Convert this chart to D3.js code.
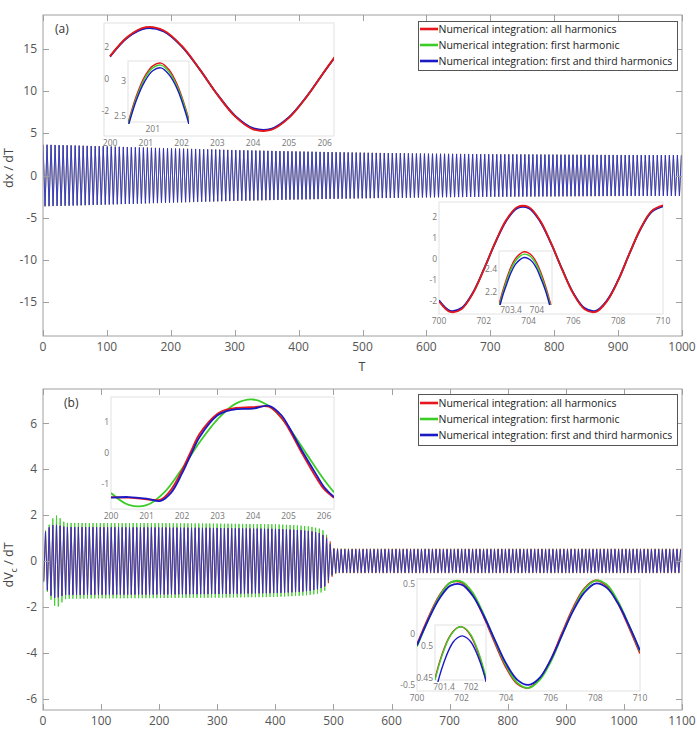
<!DOCTYPE html>
<html><head><meta charset="utf-8">
<script src="https://cdn.jsdelivr.net/npm/d3@7"></script>
<style>body{margin:0;background:#fff} svg{display:block} text{font-family:"Open Sans",sans-serif}</style>
</head><body><svg id="c" width="697" height="734"></svg>
<script>
// ---------------- DATA ----------------
const seriesNames = ["Numerical integration: all harmonics","Numerical integration: first harmonic","Numerical integration: first and third harmonics"];
const seriesColors = ["#e8161c","#3ccc28","#1a1ac4"];
const PERIOD = 6.2832;

// panel (a): envelope of dx/dT oscillation
const aEnvT   = [0, 50, 100, 150, 200, 300, 400, 500, 600, 700, 800, 900, 1000];
const aEnvRed = [3.66, 3.56, 3.45, 3.34, 3.24, 3.02, 2.85, 2.71, 2.60, 2.53, 2.48, 2.44, 2.42];
const aEnvGrn = [3.65, 3.55, 3.44, 3.33, 3.22, 3.01, 2.84, 2.70, 2.59, 2.52, 2.47, 2.43, 2.41];
const aEnvBlu = [3.64, 3.54, 3.43, 3.31, 3.19, 2.99, 2.83, 2.69, 2.58, 2.50, 2.46, 2.42, 2.40];
const aPeakT = 201.12;
const aXTicks = [0,100,200,300,400,500,600,700,800,900,1000];
const aYTicks = [-15,-10,-5,0,5,10,15];

// panel (a) inset 200-206
const aIn1T   = [200,200.5,201,201.5,202,202.5,203,203.5,204,204.5,205,205.5,206,206.3];
const aIn1Red = [1.43,2.66,3.24,3.03,2.08,0.63,-0.98,-2.35,-3.14,-3.18,-2.43,-1.10,0.50,1.43];
const aIn1Grn = [1.42,2.64,3.21,3.00,2.06,0.62,-0.97,-2.33,-3.11,-3.15,-2.41,-1.09,0.50,1.42];
const aIn1Blu = [1.40,2.61,3.17,2.97,2.04,0.62,-0.96,-2.30,-3.07,-3.11,-2.38,-1.08,0.49,1.40];
const aIn1XTicks = [200,201,202,203,204,205,206];
const aIn1YTicks = [-2,0,2];
// nested zoom of the peak
const aIn1nT   = [200.4,200.6,200.8,201.0,201.2,201.4,201.6,201.8,202.0];
const aIn1nRed = [2.39,2.78,3.06,3.22,3.26,3.16,2.94,2.60,2.15];
const aIn1nGrn = [2.37,2.75,3.03,3.19,3.23,3.13,2.91,2.58,2.13];
const aIn1nBlu = [2.34,2.72,2.99,3.15,3.19,3.09,2.88,2.54,2.10];
const aIn1nXTicks = [201];
const aIn1nYTicks = [2.5,3];

// panel (a) inset 700-710
const aIn2T   = [700,700.5,701,701.5,702,702.5,703,703.5,704,704.5,705,705.5,706,706.5,707,707.5,708,708.5,709,709.5,710];
const aIn2Red = [-2.01,-2.52,-2.39,-1.66,-0.51,0.76,1.85,2.47,2.47,1.85,0.76,-0.51,-1.66,-2.39,-2.52,-2.01,-1.02,0.25,1.45,2.29,2.55];
const aIn2Grn = [-1.99,-2.49,-2.37,-1.64,-0.50,0.75,1.83,2.45,2.45,1.83,0.75,-0.50,-1.64,-2.37,-2.49,-1.99,-1.01,0.25,1.44,2.27,2.52];
const aIn2Blu = [-1.97,-2.47,-2.34,-1.63,-0.50,0.74,1.81,2.42,2.42,1.81,0.74,-0.50,-1.63,-2.34,-2.47,-1.97,-1.00,0.25,1.42,2.24,2.50];
const aIn2XTicks = [700,702,704,706,708,710];
const aIn2YTicks = [-2,-1,0,1,2];
const aIn2nT   = [703.1,703.2,703.3,703.4,703.5,703.6,703.7,703.8,703.9,704.0,704.1,704.2,704.3,704.4];
const aIn2nRed = [2.06,2.20,2.32,2.42,2.49,2.53,2.55,2.54,2.51,2.45,2.36,2.25,2.12,1.97];
const aIn2nGrn = [2.04,2.18,2.30,2.40,2.47,2.51,2.53,2.52,2.49,2.43,2.34,2.23,2.10,1.95];
const aIn2nBlu = [2.02,2.16,2.27,2.37,2.44,2.48,2.50,2.49,2.46,2.40,2.31,2.21,2.08,1.93];
const aIn2nXTicks = [703.4,704];
const aIn2nYTicks = [2.2,2.4];

// panel (b): envelope of dVc/dT oscillation (upper / lower magnitude)
const bEnvT     = [0, 5, 10, 15, 20, 25, 30, 35, 40, 100, 200, 300, 400, 440, 460, 475, 485, 490, 495, 500, 510, 1100];
const bEnvGrnUp = [1.15,1.35,1.55,1.80,1.95,2.00,1.85,1.72,1.66,1.65,1.65,1.63,1.60,1.55,1.50,1.42,1.30,1.05,0.75,0.56,0.53,0.53];
const bEnvGrnLo = [0.85,1.20,1.50,1.75,1.95,2.02,1.90,1.72,1.65,1.63,1.62,1.60,1.57,1.52,1.48,1.42,1.30,1.05,0.75,0.56,0.53,0.53];
const bEnvRedUp = [1.10,1.30,1.45,1.55,1.58,1.57,1.53,1.50,1.48,1.47,1.46,1.44,1.40,1.35,1.30,1.22,1.10,1.00,0.84,0.56,0.53,0.53];
const bEnvRedLo = [0.80,1.15,1.40,1.55,1.60,1.60,1.55,1.50,1.48,1.47,1.46,1.44,1.40,1.35,1.30,1.22,1.12,1.00,0.84,0.56,0.53,0.53];
const bEnvBluUp = [1.10,1.30,1.45,1.55,1.58,1.57,1.53,1.50,1.48,1.47,1.46,1.44,1.40,1.35,1.30,1.22,1.08,0.90,0.70,0.52,0.50,0.50];
const bEnvBluLo = [0.80,1.15,1.40,1.55,1.60,1.60,1.55,1.50,1.48,1.47,1.46,1.44,1.40,1.35,1.30,1.22,1.10,0.90,0.70,0.52,0.50,0.50];
const bPeakT = 701.8;
const bXTicks = [0,100,200,300,400,500,600,700,800,900,1000,1100];
const bYTicks = [-6,-4,-2,0,2,4,6];

// panel (b) inset 200-206
const bIn1T   = [200,200.5,201,201.4,201.7,202,202.25,202.5,203,203.25,203.5,204,204.45,204.8,205,205.4,205.8,206,206.28];
const bIn1Red = [-1.40,-1.42,-1.47,-1.48,-1.15,-0.55,0.05,0.62,1.25,1.38,1.43,1.46,1.47,1.12,0.78,-0.05,-0.82,-1.15,-1.42];
const bIn1Blu = [-1.42,-1.40,-1.45,-1.52,-1.25,-0.65,-0.05,0.52,1.20,1.33,1.39,1.41,1.50,1.20,0.85,0.03,-0.72,-1.08,-1.40];
const bIn1GT  = [200,200.5,201,201.5,202,202.5,203,203.5,204,204.5,205,205.5,206,206.28];
const bIn1Grn = [-1.27,-1.65,-1.66,-1.25,-0.50,0.35,1.07,1.56,1.70,1.45,0.82,-0.02,-0.85,-1.25];
const bIn1XTicks = [200,201,202,203,204,205,206];
const bIn1YTicks = [-1,0,1];

// panel (b) inset 700-710
const bIn2T   = [700,700.5,701,701.5,702,702.5,703,703.5,704,704.5,705,705.5,706,706.5,707,707.5,708,708.5,709,709.5,710];
const bIn2Red = [-0.10,0.16,0.38,0.51,0.51,0.39,0.17,-0.09,-0.33,-0.49,-0.53,-0.44,-0.25,0.01,0.26,0.45,0.53,0.48,0.31,0.07,-0.19];
const bIn2Grn = [-0.12,0.14,0.37,0.51,0.52,0.41,0.19,-0.07,-0.31,-0.48,-0.53,-0.45,-0.27,-0.01,0.24,0.44,0.53,0.49,0.33,0.09,-0.17];
const bIn2Blu = [-0.11,0.14,0.35,0.48,0.49,0.38,0.18,-0.06,-0.29,-0.45,-0.50,-0.43,-0.25,-0.01,0.23,0.41,0.50,0.46,0.31,0.09,-0.16];
const bIn2XTicks = [700,702,704,706,708,710];
const bIn2YTicks = [-0.5,0,0.5];
const bIn2nT   = [701.2,701.3,701.4,701.5,701.6,701.7,701.8,701.9,702.0,702.1,702.2,702.3,702.4];
const bIn2nRed = [0.449,0.475,0.496,0.512,0.523,0.529,0.530,0.525,0.515,0.500,0.480,0.455,0.426];
const bIn2nGrn = [0.447,0.473,0.494,0.511,0.522,0.529,0.530,0.526,0.517,0.502,0.483,0.459,0.431];
const bIn2nBlu = [0.426,0.453,0.475,0.493,0.506,0.513,0.516,0.513,0.506,0.493,0.475,0.453,0.426];
const bIn2nXTicks = [701.4,702];
const bIn2nYTicks = [0.45,0.5];

// ---------------- DRAW ----------------
const svg = d3.select("#c");
const AX = "#a0a0a0", TXT = "#555";
const BAND_BLUE = "#2c2cd6";
let clipId = 0;

function band(envT, up, lo, tPeak, tMax){
  const fu = d3.scaleLinear().domain(envT).range(up).clamp(true);
  const fl = d3.scaleLinear().domain(envT).range(lo).clamp(true);
  const half = PERIOD/2;
  let k = Math.ceil((0 - tPeak)/half);
  const pts = [];
  for(;;k++){
    const t = tPeak + k*half;
    if (t > tMax) break;
    const even = ((k % 2) + 2) % 2 === 0;
    pts.push([t, even ? fu(t) : -fl(t)]);
  }
  return pts;
}

function mainPanel(o){
  const x = d3.scaleLinear().domain(o.xDom).range([o.x0,o.x1]);
  const y = d3.scaleLinear().domain(o.yDom).range([o.y1,o.y0]);
  const g = svg.append("g");
  const id = "clip"+(clipId++);
  svg.append("clipPath").attr("id",id).append("rect").attr("x",o.x0).attr("y",o.y0).attr("width",o.x1-o.x0).attr("height",o.y1-o.y0);
  const line = d3.line().x(d=>x(d[0])).y(d=>y(d[1]));
  const cg = g.append("g").attr("clip-path",`url(#${id})`);
  o.series.forEach(s=>{
    cg.append("path").attr("d",line(s.pts)).attr("fill","none").attr("stroke",s.color).attr("stroke-width",s.w||0.9);
  });
  const fr = g.append("g").attr("stroke",AX).attr("stroke-width",1).attr("fill","none");
  fr.append("rect").attr("x",o.x0).attr("y",o.y0).attr("width",o.x1-o.x0).attr("height",o.y1-o.y0);
  o.xTicks.forEach(v=>{
    const px = Math.round(x(v))+0.5;
    fr.append("line").attr("x1",px).attr("x2",px).attr("y1",o.y1).attr("y2",o.y1-6);
    fr.append("line").attr("x1",px).attr("x2",px).attr("y1",o.y0).attr("y2",o.y0+6);
    g.append("text").attr("x",x(v)).attr("y",o.y1+15).attr("text-anchor","middle").attr("font-size",12).attr("fill",TXT).text(v);
  });
  o.yTicks.forEach(v=>{
    const py = Math.round(y(v))+0.5;
    fr.append("line").attr("x1",o.x0).attr("x2",o.x0+6).attr("y1",py).attr("y2",py);
    fr.append("line").attr("x1",o.x1).attr("x2",o.x1-6).attr("y1",py).attr("y2",py);
    g.append("text").attr("x",o.x0-6).attr("y",y(v)).attr("dy","0.35em").attr("text-anchor","end").attr("font-size",12).attr("fill",TXT).text(v);
  });
  return {x,y,g};
}

function inset(o){
  const x = d3.scaleLinear().domain(o.xDom).range([o.x0,o.x1]);
  const y = d3.scaleLinear().domain(o.yDom).range([o.y1,o.y0]);
  const g = svg.append("g");
  const id = "clip"+(clipId++);
  svg.append("clipPath").attr("id",id).append("rect").attr("x",o.x0).attr("y",o.y0-2).attr("width",o.x1-o.x0).attr("height",o.y1-o.y0+4);
  g.append("rect").attr("x",o.x0).attr("y",o.y0).attr("width",o.x1-o.x0).attr("height",o.y1-o.y0).attr("fill","#fff").attr("stroke","#e2e2e2").attr("stroke-width",1);
  const line = d3.line().curve(d3.curveCatmullRom.alpha(0.5)).x(d=>x(d[0])).y(d=>y(d[1]));
  const cg = g.append("g").attr("clip-path",`url(#${id})`);
  o.series.forEach(s=>{
    const pts = s.t.map((t,i)=>[t,s.v[i]]);
    cg.append("path").attr("d",line(pts)).attr("fill","none").attr("stroke",s.color).attr("stroke-width",o.sw||1.8);
  });
  o.xTicks.forEach(v=>{
    g.append("text").attr("x",x(v)).attr("y",o.y1+7.5).attr("dy","0.35em").attr("text-anchor","middle").attr("font-size",o.fs||8.5).attr("fill","#777").text(v);
  });
  o.yTicks.forEach(v=>{
    g.append("text").attr("x",o.yLabX!==undefined?o.yLabX:o.x0-2).attr("y",y(v)).attr("dy","0.35em").attr("text-anchor","end").attr("font-size",o.fs||8.5).attr("fill","#777").text(v);
  });
}

function legend(x0,y0,w,h,rowY){
  const g = svg.append("g");
  g.append("rect").attr("x",x0+0.5).attr("y",y0+0.5).attr("width",w).attr("height",h).attr("fill","#fff").attr("stroke","#555").attr("stroke-width",1);
  seriesNames.forEach((n,i)=>{
    g.append("line").attr("x1",x0+2).attr("x2",x0+20).attr("y1",rowY[i]).attr("y2",rowY[i]).attr("stroke",seriesColors[i]).attr("stroke-width",2.6);
    g.append("text").attr("class","leg").attr("x",x0+20.5).attr("y",rowY[i]).attr("dy","0.35em").attr("font-size",12).attr("fill","#222").text(n);
  });
  return g;
}

// ---- Panel (a)
const A = mainPanel({x0:43,x1:682,y0:15,y1:336,xDom:[0,1000],yDom:[-19,19],xTicks:aXTicks,yTicks:aYTicks,
  series:[
    {pts:band(aEnvT,aEnvRed,aEnvRed,aPeakT,1000),color:seriesColors[0],w:0.5},
    {pts:band(aEnvT,aEnvGrn,aEnvGrn,aPeakT,1000),color:seriesColors[1],w:0.5},
    {pts:band(aEnvT,aEnvBlu,aEnvBlu,aPeakT,1000),color:BAND_BLUE,w:0.85}]});
svg.append("text").attr("x",362).attr("y",371).attr("text-anchor","middle").attr("font-size",12.5).attr("fill","#444").text("T");
svg.append("text").attr("transform","translate(13,168) rotate(-90)").attr("text-anchor","middle").attr("font-size",12.5).attr("fill","#444").text("dx / dT");
svg.append("text").attr("x",55).attr("y",29).attr("dy","0.35em").attr("font-size",12).attr("fill","#333").text("(a)");

inset({x0:104,x1:334,y0:23,y1:136,xDom:[199.83,206.26],yDom:[-3.56,3.5],xTicks:aIn1XTicks,yTicks:aIn1YTicks,yLabX:109,
  series:[{t:aIn1T,v:aIn1Grn,color:seriesColors[1]},{t:aIn1T,v:aIn1Blu,color:seriesColors[2]},{t:aIn1T,v:aIn1Red,color:seriesColors[0]}]});
inset({x0:128,x1:189,y0:61,y1:122,xDom:[200.4,201.88],yDom:[2.41,3.29],xTicks:aIn1nXTicks,yTicks:aIn1nYTicks,sw:1.4,yLabX:126,
  series:[{t:aIn1nT,v:aIn1nRed,color:seriesColors[0]},{t:aIn1nT,v:aIn1nGrn,color:seriesColors[1]},{t:aIn1nT,v:aIn1nBlu,color:seriesColors[2]}]});
inset({x0:439,x1:663,y0:202,y1:314,xDom:[700,710],yDom:[-2.62,2.71],xTicks:aIn2XTicks,yTicks:aIn2YTicks,yLabX:437,
  series:[{t:aIn2T,v:aIn2Grn,color:seriesColors[1]},{t:aIn2T,v:aIn2Blu,color:seriesColors[2]},{t:aIn2T,v:aIn2Red,color:seriesColors[0]}]});
inset({x0:499,x1:552,y0:251,y1:303,xDom:[703.12,704.35],yDom:[2.104,2.557],xTicks:aIn2nXTicks,yTicks:aIn2nYTicks,sw:1.4,yLabX:497,
  series:[{t:aIn2nT,v:aIn2nRed,color:seriesColors[0]},{t:aIn2nT,v:aIn2nGrn,color:seriesColors[1]},{t:aIn2nT,v:aIn2nBlu,color:seriesColors[2]}]});
legend(418,21,259,49,[29,45,61]);

// ---- Panel (b)
const B = mainPanel({x0:43,x1:682,y0:389,y1:710,xDom:[0,1100],yDom:[-6.5,7.5],xTicks:bXTicks,yTicks:bYTicks,
  series:[
    {pts:band(bEnvT,bEnvGrnUp,bEnvGrnLo,bPeakT,1100),color:seriesColors[1],w:0.9},
    {pts:band(bEnvT,bEnvRedUp,bEnvRedLo,bPeakT,1100),color:seriesColors[0],w:0.6},
    {pts:band(bEnvT,bEnvBluUp,bEnvBluLo,bPeakT,1100),color:BAND_BLUE,w:0.85}]});
const yl = svg.append("text").attr("transform","translate(13,565) rotate(-90)").attr("text-anchor","middle").attr("font-size",12.5).attr("fill","#444");
yl.append("tspan").text("dV");
yl.append("tspan").attr("font-size",9).attr("dy",4).text("c");
yl.append("tspan").attr("dy",-4).text(" / dT");
svg.append("text").attr("x",64).attr("y",403).attr("dy","0.35em").attr("font-size",12).attr("fill","#333").text("(b)");

inset({x0:111,x1:334,y0:397,y1:509,xDom:[200,206.28],yDom:[-1.78,1.78],xTicks:bIn1XTicks,yTicks:bIn1YTicks,yLabX:109,
  series:[{t:bIn1GT,v:bIn1Grn,color:seriesColors[1]},{t:bIn1T,v:bIn1Red,color:seriesColors[0]},{t:bIn1T,v:bIn1Blu,color:seriesColors[2]}]});
inset({x0:417,x1:640,y0:579,y1:691,xDom:[700,710],yDom:[-0.56,0.545],xTicks:bIn2XTicks,yTicks:bIn2YTicks,yLabX:415,
  series:[{t:bIn2T,v:bIn2Red,color:seriesColors[0]},{t:bIn2T,v:bIn2Grn,color:seriesColors[1]},{t:bIn2T,v:bIn2Blu,color:seriesColors[2]}]});
inset({x0:435,x1:486,y0:625,y1:680,xDom:[701.2,702.33],yDom:[0.447,0.533],xTicks:bIn2nXTicks,yTicks:bIn2nYTicks,sw:1.4,yLabX:433,
  series:[{t:bIn2nT,v:bIn2nRed,color:seriesColors[0]},{t:bIn2nT,v:bIn2nGrn,color:seriesColors[1]},{t:bIn2nT,v:bIn2nBlu,color:seriesColors[2]}]});
legend(418,394,259,51,[403,419,435]);

// fit legend font so the longest entry spans ~234px
let maxW = 0;
svg.selectAll("text.leg").each(function(){ maxW = Math.max(maxW, this.getComputedTextLength()); });
const fs = 12*234/maxW;
svg.selectAll("text.leg").attr("font-size",fs);
</script></body></html>
